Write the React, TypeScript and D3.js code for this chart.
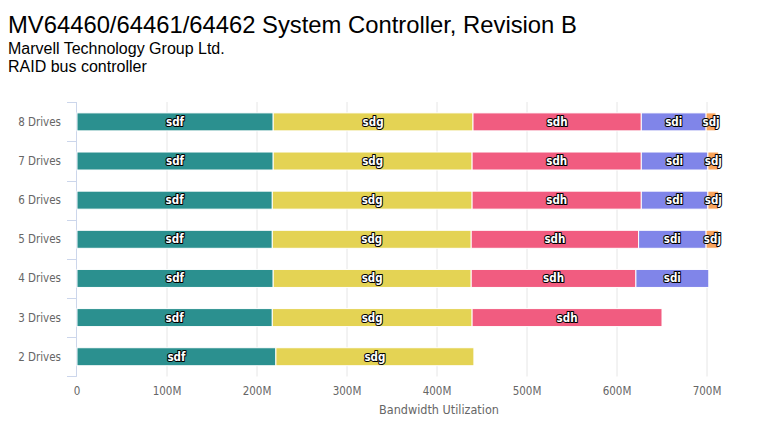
import React from 'react';
import * as d3 from 'd3';

const categories = ['8 Drives', '7 Drives', '6 Drives', '5 Drives', '4 Drives', '3 Drives', '2 Drives'];
const seriesNames = ['sdf', 'sdg', 'sdh', 'sdi', 'sdj'];
// bandwidth per disk, in MB/s (millions)
const sdf = [218, 218, 217, 217, 218, 217, 221];
const sdg = [222, 221, 222, 221, 220, 222, 220];
const sdh = [187, 188, 188, 186, 183, 211, null];
const sdi = [72, 74, 74, 75, 81, null, null];
const sdj = [11, 12, 12, 14, null, null, null];
const xTicks = [0, 100, 200, 300, 400, 500, 600, 700];
const colors = ['#2b908f', '#e4d354', '#f15c80', '#8085e9', '#f7a35c'];

const width = 764;
const height = 430;
const font = '"DejaVu Sans Condensed", "DejaVu Sans", sans-serif';

const App = () => {
  const values = [sdf, sdg, sdh, sdi, sdj];
  const rows = categories.map((c, i) => {
    const r: any = { cat: c };
    seriesNames.forEach((s, j) => (r[s] = values[j][i] ?? 0));
    return r;
  });
  const stacked = d3.stack().keys(seriesNames)(rows);

  const x = d3.scaleLinear().domain([0, 800]).range([77, 797]);
  const y = d3.scaleBand().domain(categories).range([102.3, 376.3]);
  const barH = 18;

  return (
    <svg width={width} height={height} style={{ position: 'absolute', left: 0, top: 0, background: '#fff' }}>
      <text x={8} y={33} fontFamily='"Liberation Sans", Arial, sans-serif' fontSize={23.8} fill="#000">
        MV64460/64461/64462 System Controller, Revision B
      </text>
      <text x={8} y={54} fontFamily='"Liberation Sans", Arial, sans-serif' fontSize={16} fill="#000">
        Marvell Technology Group Ltd.
      </text>
      <text x={8} y={72} fontFamily='"Liberation Sans", Arial, sans-serif' fontSize={16} fill="#000">
        RAID bus controller
      </text>

      {/* grid */}
      {xTicks.map(t => (
        t > 0 && <line key={t} x1={x(t)} x2={x(t)} y1={102} y2={376.5} stroke="#e6e6e6" strokeWidth={1} />
      ))}
      {xTicks.map(t => (
        <text key={'l' + t} x={x(t)} y={395} textAnchor="middle" fontFamily={font} fontSize={11.5} fill="#666">
          {t === 0 ? '0' : t + 'M'}
        </text>
      ))}
      <text x={439} y={414} textAnchor="middle" fontFamily={font} fontSize={12.5} fill="#666">
        Bandwidth Utilization
      </text>

      {/* y axis */}
      <line x1={76.5} x2={76.5} y1={102} y2={376.8} stroke="#ccd6eb" strokeWidth={1} />
      {d3.range(categories.length + 1).map(i => {
        const yy = Math.round(102.3 + i * y.step()) + 0.5;
        return <line key={'t' + i} x1={67} x2={76.5} y1={yy} y2={yy} stroke="#ccd6eb" strokeWidth={1} />;
      })}
      {categories.map(c => (
        <text key={c} x={61} y={(y(c) as number) + y.bandwidth() / 2 + 4} textAnchor="end"
          fontFamily={font} fontSize={11.5} fill="#666">
          {c}
        </text>
      ))}

      {/* bars */}
      {stacked.map((layer, j) => (
        <g key={layer.key}>
          {layer.map((d, i) => {
            if (d[1] - d[0] <= 0) return null;
            const cy = (y(categories[i]) as number) + y.bandwidth() / 2;
            return (
              <rect key={i} x={x(d[0])} y={cy - barH / 2} width={x(d[1]) - x(d[0])} height={barH}
                fill={colors[j]} stroke="#fff" strokeWidth={1} />
            );
          })}
        </g>
      ))}
      {stacked.map((layer) => (
        <g key={'dl' + layer.key}>
          {layer.map((d, i) => {
            if (d[1] - d[0] <= 0) return null;
            const cy = (y(categories[i]) as number) + y.bandwidth() / 2;
            return (
              <text key={i} x={(x(d[0]) + x(d[1])) / 2} y={cy + 4} textAnchor="middle"
                fontFamily={font} fontSize={11.5} fontWeight="bold" fill="#fff"
                stroke="#000" strokeWidth={2} paintOrder="stroke" strokeLinejoin="round">
                {layer.key}
              </text>
            );
          })}
        </g>
      ))}
    </svg>
  );
};

export default App;
